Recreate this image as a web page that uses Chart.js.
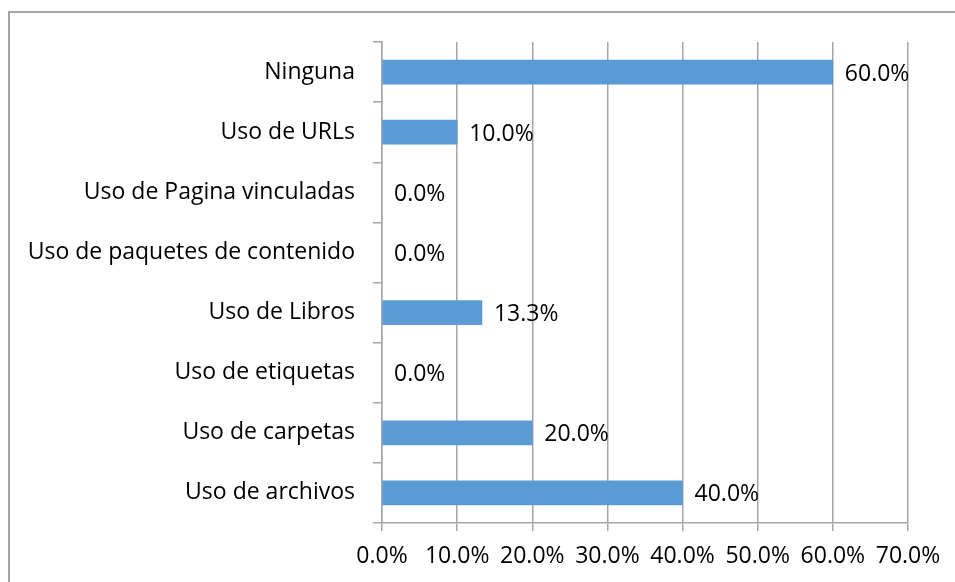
<!DOCTYPE html>
<html>
<head>
<meta charset="utf-8">
<script src="https://cdn.jsdelivr.net/npm/chart.js@4.4.1/dist/chart.umd.min.js"></script>
<style>
  html, body { margin: 0; padding: 0; background: #fff; }
  #wrap { position: relative; width: 955px; height: 582px; overflow: hidden; }
  #frame { position: absolute; left: 8px; top: 11px; width: 1000px; height: 700px; border: 2px solid #a6a6a6; box-sizing: border-box; }
  #myChart { position: absolute; left: 0; top: 0; }
</style>
</head>
<body>
<div id="wrap">
  <div id="frame"></div>
  <canvas id="myChart" width="955" height="582"></canvas>
</div>
<script>
// Datos
const categories = [
  'Ninguna',
  'Uso de URLs',
  'Uso de Pagina vinculadas',
  'Uso de paquetes de contenido',
  'Uso de Libros',
  'Uso de etiquetas',
  'Uso de carpetas',
  'Uso de archivos'
];
const percentages = [60.0, 10.0, 0.0, 0.0, 13.3, 0.0, 20.0, 40.0];
const xTicks = [0, 10, 20, 30, 40, 50, 60, 70];

const font = "'Open Sans', 'Noto Sans', sans-serif";
const fontSize = 23;
const gridColor = '#a6a6a6';

// Etiquetas de valor al final de cada barra
const valueLabels = {
  id: 'valueLabels',
  afterDatasetsDraw(chart) {
    const { ctx } = chart;
    const meta = chart.getDatasetMeta(0);
    ctx.save();
    ctx.font = `${fontSize}px ${font}`;
    ctx.fillStyle = '#000';
    ctx.textBaseline = 'middle';
    ctx.textAlign = 'left';
    meta.data.forEach((bar, i) => {
      ctx.fillText(percentages[i].toFixed(1) + '%', bar.x + 12, bar.y + 2);
    });
    ctx.restore();
  }
};

new Chart(document.querySelector('#myChart').getContext('2d'), {
  type: 'bar',
  data: {
    labels: categories,
    datasets: [{
      data: percentages,
      // las barras en 0 no se dibujan
      backgroundColor: c => (c.raw > 0 ? '#5b9bd5' : 'rgba(0,0,0,0)'),
      borderWidth: 0,
      barThickness: 24
    }]
  },
  options: {
    indexAxis: 'y',
    responsive: false,
    animation: false,
    layout: { padding: { top: 42, right: 47, bottom: 4, left: 0 } },
    plugins: {
      legend: { display: false },
      tooltip: { enabled: false }
    },
    scales: {
      x: {
        min: 0,
        max: 70,
        afterBuildTicks(axis) { axis.ticks = xTicks.map(v => ({ value: v })); },
        afterFit(axis) { axis.height = 55; },
        grid: { color: gridColor, lineWidth: 1.5, tickLength: 8 },
        border: { color: gridColor, width: 1.5 },
        ticks: {
          color: '#000',
          padding: 12,
          maxRotation: 0,
          autoSkip: false,
          font: { family: font, size: fontSize },
          callback: v => v.toFixed(1) + '%'
        }
      },
      y: {
        afterFit(axis) { axis.width = 382; },
        grid: { drawOnChartArea: false, color: gridColor, lineWidth: 1.5, tickLength: 9, offset: true },
        border: { color: gridColor, width: 1.5 },
        ticks: {
          color: '#000',
          padding: 18,
          font: { family: font, size: fontSize }
        }
      }
    }
  },
  plugins: [valueLabels]
});
</script>
</body>
</html>
